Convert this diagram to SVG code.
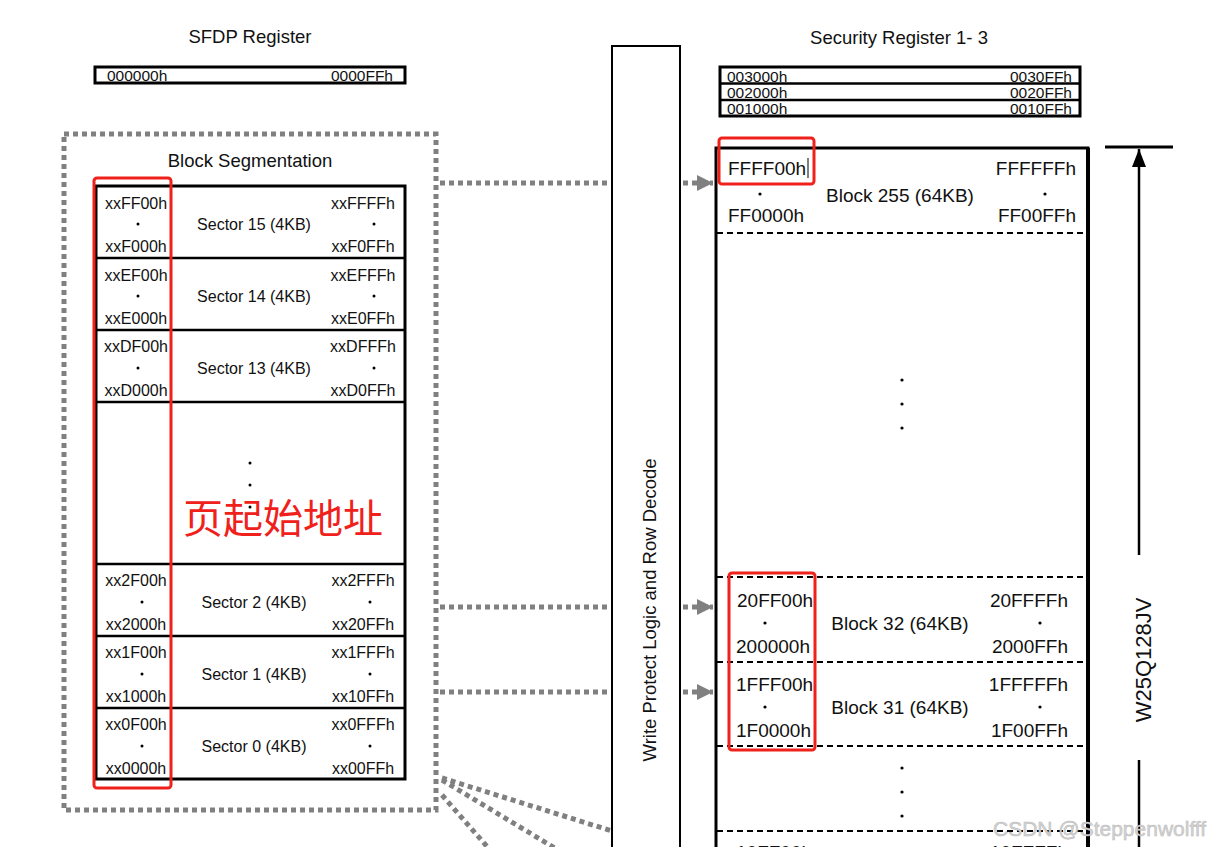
<svg xmlns="http://www.w3.org/2000/svg" width="1229" height="847" viewBox="0 0 1229 847">
<defs>
<style>
text{font-family:"Liberation Sans",Arial,sans-serif;fill:#111}
.t18{font-size:18.5px}
.a16{font-size:16px}
.a19{font-size:19px}
.r15{font-size:15.5px}
.mid{text-anchor:middle}
.end{text-anchor:end}
.box{fill:#fff;stroke:#000;stroke-width:3}
.sep{stroke:#000;stroke-width:2.5}
.dash{stroke:#000;stroke-width:2;stroke-dasharray:6 4}
.red{fill:none;stroke:#f0201a;stroke-width:3}
.conn{fill:none;stroke:#808080;stroke-width:5;stroke-dasharray:5 4}
</style>
<marker id="ah" markerWidth="16" markerHeight="16" refX="16" refY="8" orient="auto" markerUnits="userSpaceOnUse">
<path d="M0,0 L16,8 L0,16 Z" fill="#808080"/>
</marker>
<marker id="up" markerWidth="18" markerHeight="14" refX="18" refY="7" orient="auto" markerUnits="userSpaceOnUse">
<path d="M0,0 L18,7 L0,14 Z" fill="#000"/>
</marker>
</defs>
<rect width="1229" height="847" fill="#fff"/>

<g id="connectors">
<rect x="64" y="134" width="372" height="676" class="conn"/>
<line x1="440" y1="183" x2="713" y2="183" class="conn" marker-end="url(#ah)"/>
<line x1="440" y1="607" x2="713" y2="607" class="conn" marker-end="url(#ah)"/>
<line x1="440" y1="692" x2="713" y2="692" class="conn" marker-end="url(#ah)"/>
<line x1="442" y1="778" x2="612" y2="831" class="conn"/>
<line x1="442" y1="780" x2="558" y2="850" class="conn"/>
<line x1="442" y1="795" x2="490" y2="850" class="conn"/>
</g>

<g id="sfdp">
<text x="250" y="43" class="t18 mid">SFDP Register</text>
<rect x="95" y="67" width="310" height="16" class="box"/>
<text x="107" y="81" class="r15">000000h</text>
<text x="393" y="81" class="r15 end">0000FFh</text>
</g>

<g id="block-segmentation">
<text x="250" y="167" class="t18 mid">Block Segmentation</text>
<rect x="96" y="186" width="309" height="593" class="box"/>
<line x1="96" y1="258" x2="405" y2="258" class="sep"/>
<line x1="96" y1="330" x2="405" y2="330" class="sep"/>
<line x1="96" y1="402" x2="405" y2="402" class="sep"/>
<line x1="96" y1="564" x2="405" y2="564" class="sep"/>
<line x1="96" y1="636" x2="405" y2="636" class="sep"/>
<line x1="96" y1="708" x2="405" y2="708" class="sep"/>
<g id="sector15">
<text x="136" y="209" class="a16 mid">xxFF00h</text><circle cx="138" cy="224" r="1.5"/><text x="136" y="252" class="a16 mid">xxF000h</text>
<text x="254" y="230" class="a16 mid">Sector 15 (4KB)</text>
<text x="363" y="209" class="a16 mid">xxFFFFh</text><circle cx="374" cy="224" r="1.5"/><text x="363" y="252" class="a16 mid">xxF0FFh</text>
</g>
<g id="sector14">
<text x="136" y="281" class="a16 mid">xxEF00h</text><circle cx="138" cy="296" r="1.5"/><text x="136" y="324" class="a16 mid">xxE000h</text>
<text x="254" y="302" class="a16 mid">Sector 14 (4KB)</text>
<text x="363" y="281" class="a16 mid">xxEFFFh</text><circle cx="374" cy="296" r="1.5"/><text x="363" y="324" class="a16 mid">xxE0FFh</text>
</g>
<g id="sector13">
<text x="136" y="352" class="a16 mid">xxDF00h</text><circle cx="138" cy="368" r="1.5"/><text x="136" y="396" class="a16 mid">xxD000h</text>
<text x="254" y="374" class="a16 mid">Sector 13 (4KB)</text>
<text x="363" y="352" class="a16 mid">xxDFFFh</text><circle cx="374" cy="368" r="1.5"/><text x="363" y="396" class="a16 mid">xxD0FFh</text>
</g>
<circle cx="250" cy="463" r="1.5"/><circle cx="250" cy="485" r="1.5"/><circle cx="250" cy="507" r="1.5"/>
<g id="sector2">
<text x="136" y="586" class="a16 mid">xx2F00h</text><circle cx="142" cy="602" r="1.5"/><text x="136" y="630" class="a16 mid">xx2000h</text>
<text x="254" y="608" class="a16 mid">Sector 2 (4KB)</text>
<text x="363" y="586" class="a16 mid">xx2FFFh</text><circle cx="370" cy="602" r="1.5"/><text x="363" y="630" class="a16 mid">xx20FFh</text>
</g>
<g id="sector1">
<text x="136" y="658" class="a16 mid">xx1F00h</text><circle cx="142" cy="674" r="1.5"/><text x="136" y="702" class="a16 mid">xx1000h</text>
<text x="254" y="680" class="a16 mid">Sector 1 (4KB)</text>
<text x="363" y="658" class="a16 mid">xx1FFFh</text><circle cx="370" cy="674" r="1.5"/><text x="363" y="702" class="a16 mid">xx10FFh</text>
</g>
<g id="sector0">
<text x="136" y="730" class="a16 mid">xx0F00h</text><circle cx="142" cy="746" r="1.5"/><text x="136" y="774" class="a16 mid">xx0000h</text>
<text x="254" y="752" class="a16 mid">Sector 0 (4KB)</text>
<text x="363" y="730" class="a16 mid">xx0FFFh</text><circle cx="370" cy="746" r="1.5"/><text x="363" y="774" class="a16 mid">xx00FFh</text>
</g>
<rect x="94" y="178" width="77" height="610" rx="3" class="red"/>
<text x="283" y="533" class="mid" style="font-family:'Noto Sans CJK SC','Noto Sans',sans-serif;font-size:40px;fill:#f0201a">页起始地址</text>
</g>

<g id="write-protect">
<rect x="612" y="46" width="68" height="810" fill="#fff" stroke="#000" stroke-width="2"/>
<text transform="translate(656,610) rotate(-90)" class="t18 mid">Write Protect Logic and Row Decode</text>
</g>

<g id="security-register">
<text x="899" y="44" class="t18 mid">Security Register 1- 3</text>
<rect x="720" y="67" width="360" height="49" class="box"/>
<line x1="720" y1="83.5" x2="1080" y2="83.5" class="sep"/>
<line x1="720" y1="100" x2="1080" y2="100" class="sep"/>
<text x="727" y="82" class="r15">003000h</text><text x="1072" y="82" class="r15 end">0030FFh</text>
<text x="727" y="98" class="r15">002000h</text><text x="1072" y="98" class="r15 end">0020FFh</text>
<text x="727" y="114" class="r15">001000h</text><text x="1072" y="114" class="r15 end">0010FFh</text>
</g>

<g id="memory-array">
<path d="M716,860 V148 H1088 V860" fill="none" stroke="#000" stroke-width="3"/>
<line x1="1088" y1="148" x2="1088" y2="860" stroke="#000" stroke-width="4"/>
<line x1="717" y1="233" x2="1087" y2="233" class="dash"/>
<line x1="717" y1="577" x2="1087" y2="577" class="dash"/>
<line x1="717" y1="662" x2="1087" y2="662" class="dash"/>
<line x1="717" y1="746" x2="1087" y2="746" class="dash"/>
<line x1="717" y1="831" x2="1087" y2="831" class="dash"/>
<g id="block255">
<text x="728" y="175" class="a19">FFFF00h</text><circle cx="760" cy="194" r="1.6"/><text x="728" y="222" class="a19">FF0000h</text>
<text x="900" y="202" class="a19 mid">Block 255 (64KB)</text>
<text x="1076" y="175" class="a19 end">FFFFFFh</text><circle cx="1045" cy="194" r="1.6"/><text x="1076" y="222" class="a19 end">FF00FFh</text>
<line x1="808" y1="158" x2="808" y2="178" stroke="#000" stroke-width="1"/>
<rect x="719" y="138" width="95" height="46" rx="3" class="red"/>
</g>
<circle cx="902" cy="380" r="1.6"/><circle cx="902" cy="404" r="1.6"/><circle cx="902" cy="428" r="1.6"/>
<g id="block32">
<text x="737" y="607" class="a19">20FF00h</text><circle cx="765" cy="623" r="1.6"/><text x="736" y="653" class="a19">200000h</text>
<text x="900" y="630" class="a19 mid">Block 32 (64KB)</text>
<text x="1068" y="607" class="a19 end">20FFFFh</text><circle cx="1040" cy="623" r="1.6"/><text x="1068" y="653" class="a19 end">2000FFh</text>
</g>
<g id="block31">
<text x="736" y="691" class="a19">1FFF00h</text><circle cx="765" cy="707" r="1.6"/><text x="736" y="737" class="a19">1F0000h</text>
<text x="900" y="714" class="a19 mid">Block 31 (64KB)</text>
<text x="1068" y="691" class="a19 end">1FFFFFh</text><circle cx="1040" cy="707" r="1.6"/><text x="1068" y="737" class="a19 end">1F00FFh</text>
</g>
<rect x="729" y="573" width="86" height="177" rx="3" class="red"/>
<circle cx="902" cy="768" r="1.6"/><circle cx="902" cy="792" r="1.6"/><circle cx="902" cy="816" r="1.6"/>
<text x="736" y="859" class="a19">10FF00h</text>
<text x="1068" y="859" class="a19 end">10FFFFh</text>
</g>

<g id="size-arrow">
<line x1="1105" y1="147" x2="1173" y2="147" stroke="#000" stroke-width="3"/>
<line x1="1139" y1="555" x2="1139" y2="149" stroke="#000" stroke-width="2.5" marker-end="url(#up)"/>
<line x1="1139" y1="760" x2="1139" y2="850" stroke="#000" stroke-width="2.5"/>
<text transform="translate(1151,660) rotate(-90)" class="mid" style="font-size:22px">W25Q128JV</text>
</g>

<text x="993" y="836" style="font-size:21px;fill:#d4d4d4;stroke:#b8b8b8;stroke-width:0.5">CSDN @Steppenwolfff</text>
</svg>
